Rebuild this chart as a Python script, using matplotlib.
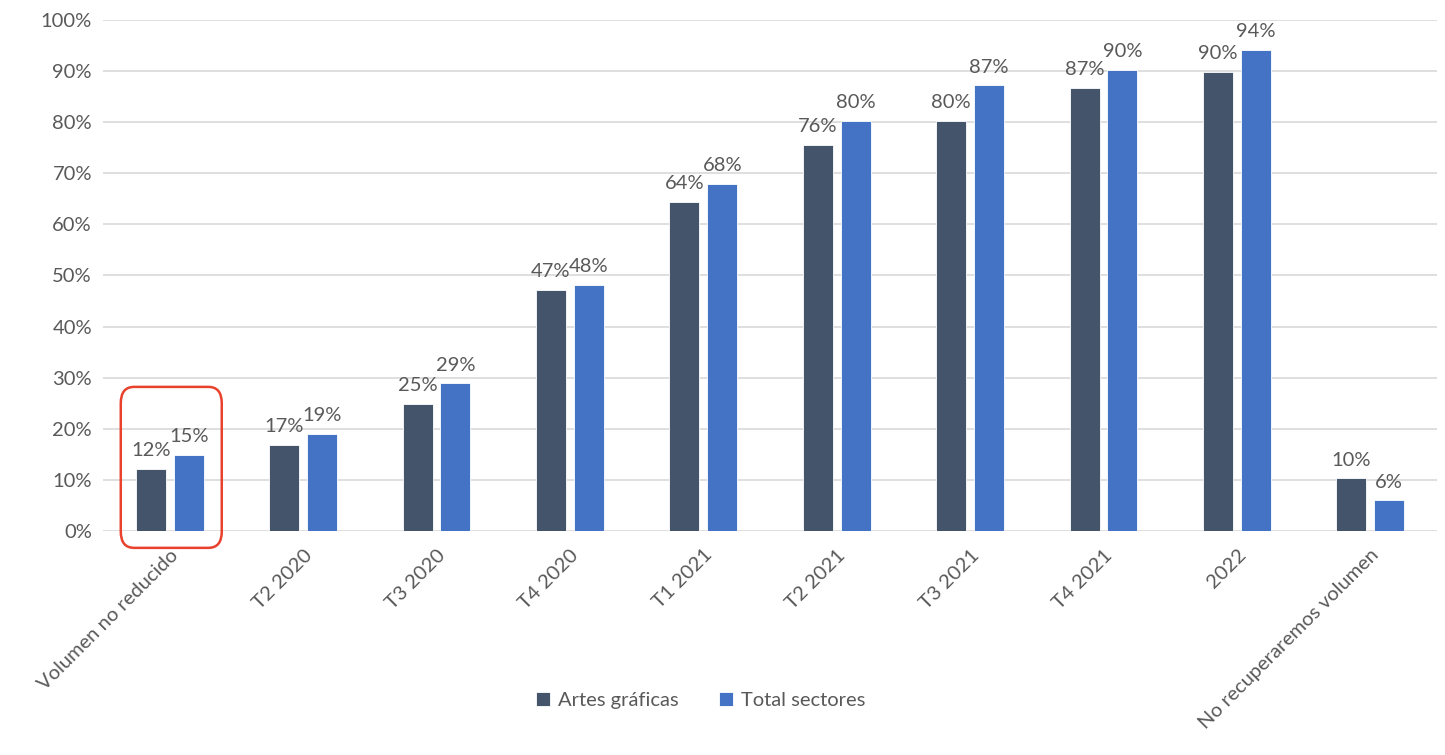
import numpy as np
import matplotlib
matplotlib.use("Agg")
import matplotlib.pyplot as plt
from matplotlib.patches import FancyBboxPatch

plt.rcParams['font.family'] = ['Lato', 'DejaVu Sans']

# data
categories = ["Volumen no reducido", "T2 2020", "T3 2020", "T4 2020", "T1 2021",
              "T2 2021", "T3 2021", "T4 2021", "2022", "No recuperaremos volumen"]
artes = [12.2, 16.8, 24.9, 47.2, 64.4, 75.6, 80.2, 86.7, 89.9, 10.3]
total = [14.9, 19.0, 28.9, 48.1, 68.0, 80.2, 87.2, 90.2, 94.1, 6.0]
artes_labels = ["12%", "17%", "25%", "47%", "64%", "76%", "80%", "87%", "90%", "10%"]
total_labels = ["15%", "19%", "29%", "48%", "68%", "80%", "87%", "90%", "94%", "6%"]

dark = "#44546A"
blue = "#4472C4"
txt = "#595959"
fs = 14.5

fig = plt.figure(figsize=(14.45, 7.55), dpi=100)
ax = fig.add_axes([0.0713, 0.2967, 0.9232, 0.6768])

x = np.arange(len(categories))
w = 0.225
off = 0.142
b1 = ax.bar(x - off, artes, w, color=dark, edgecolor="white", linewidth=0.6, label="Artes gráficas", zorder=3)
b2 = ax.bar(x + off, total, w, color=blue, edgecolor="white", linewidth=0.6, label="Total sectores", zorder=3)

for xi, v, s in zip(x, artes, artes_labels):
    ax.text(xi - off, v + 1.9, s, ha="center", va="bottom", fontsize=fs, color=txt)
for xi, v, s in zip(x, total, total_labels):
    ax.text(xi + off, v + 1.9, s, ha="center", va="bottom", fontsize=fs, color=txt)

ax.set_xlim(-0.5, len(categories) - 0.5)
ax.set_ylim(0, 100)
ax.set_yticks(np.arange(0, 101, 10))
ax.set_yticklabels([f"{t}%" for t in range(0, 101, 10)], fontsize=fs, color=txt)
ax.set_xticks(x)
ax.set_xticklabels(categories, rotation=45, ha="right", rotation_mode="anchor",
                   fontsize=fs, color=txt)
ax.tick_params(axis="both", length=0, pad=8)
ax.tick_params(axis="x", pad=11)
ax.grid(axis="y", color="#D9D9D9", linewidth=1.2, zorder=0)
ax.set_axisbelow(True)
for sp in ax.spines.values():
    sp.set_visible(False)

# red rounded box around the first group
box = FancyBboxPatch((-0.367, -3.3), 0.757, 31.5, boxstyle="round,pad=0,rounding_size=0.1",
                     mutation_aspect=32, fill=False, edgecolor="#E8412C", linewidth=1.8,
                     clip_on=False, zorder=4)
ax.add_patch(box)

fig.legend(handles=[b1, b2], labels=["Artes gráficas", "Total sectores"], loc="center",
           bbox_to_anchor=(0.485, 0.072), ncol=2, frameon=False, fontsize=fs,
           labelcolor=txt, handlelength=0.7, handleheight=0.7, handletextpad=0.4,
           columnspacing=2.0)

fig.savefig("out.png", dpi=100)
